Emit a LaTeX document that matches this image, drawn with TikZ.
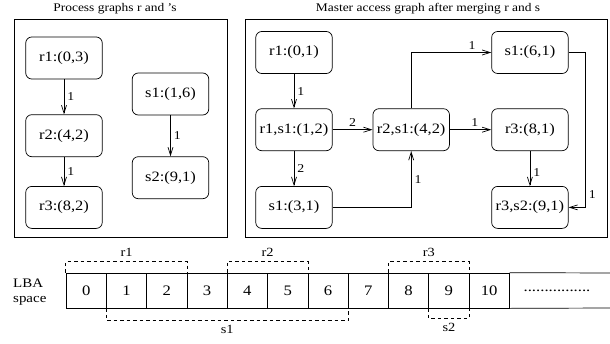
\documentclass[tikz,border=0pt]{standalone}
\usepackage{fontspec}
\setmainfont{Liberation Serif}[FakeStretch=1.15]
\usetikzlibrary{arrows.meta,positioning}

\begin{document}
\begin{tikzpicture}[x=1pt, y=-1pt,
  box/.style={draw, rounded corners=6pt, minimum width=76.5pt, minimum height=42pt, inner sep=1pt, line width=0.7pt, font=\fontsize{14.3}{17}\selectfont},
  frame/.style={draw, line width=0.8pt},
  arr/.style={-{Straight Barb[length=8pt,width=5pt]}, line width=0.7pt},
  lbl/.style={font=\fontsize{12}{14}\selectfont, inner sep=3pt},
  title/.style={font=\fontsize{11.7}{14}\selectfont},
  cell/.style={draw, minimum width=40.3pt, minimum height=35pt, inner sep=0pt, line width=0.7pt, font=\fontsize{14.5}{17}\selectfont},
  brace/.style={line width=0.6pt, dash pattern=on 3.5pt off 3pt},
  blbl/.style={font=\fontsize{12.5}{15}\selectfont, inner sep=4.5pt}]
\useasboundingbox (0,0) rectangle (610,343);

% process graphs
\node[title] (tleft) at (115,9) {Process graphs r and 's};
\draw[frame] (14,19) rectangle (227,237);
\node[box] (r1) at (64,58) {r1:(0,3)};
\node[box, below=35pt of r1] (r2) {r2:(4,2)};
\node[box, below=29pt of r2] (r3) {r3:(8,2)};
\node[box] (s1) at (170.5,94) {s1:(1,6)};
\node[box, below=41pt of s1] (s2) {s2:(9,1)};
\draw[arr] (r1) -- node[lbl, right] {1} (r2);
\draw[arr] (r2) -- node[lbl, right] {1} (r3);
\draw[arr] (s1) -- node[lbl, right] {1} (s2);

% master access graph
\node[title] (tright) at (428,9) {Master access graph after merging r and s};
\draw[frame] (245,19) rectangle (607,237);
\node[box] (m1) at (294,52.5) {r1:(0,1)};
\node[box, below=34.5pt of m1] (m2) {r1,s1:(1,2)};
\node[box, below=35pt of m2] (m3) {s1:(3,1)};
\node[box, right=40pt of m2] (m4) {r2,s1:(4,2)};
\node[box, right=41.5pt of m4] (m6) {r3:(8,1)};
\node[box, above=34.5pt of m6] (m5) {s1:(6,1)};
\node[box, below=35pt of m6] (m7) {r3,s2:(9,1)};
\draw[arr] (m1) -- node[lbl, right] {1} (m2);
\draw[arr] (m2) -- node[lbl, right] {2} (m3);
\draw[arr] (m2) -- node[lbl, above] {2} (m4);
\draw[arr] (m4) -- node[lbl, above, pos=0.6] {1} (m6);
\draw[arr] (m6) -- node[lbl, right, pos=0.6] {1} (m7);
\draw[arr] (m3.east) -| node[lbl, right, pos=0.75] {1} (m4.south);
\draw[arr] (m4.north) |- node[lbl, above, pos=0.88] {1} (m5.west);
\draw[arr] (m5.east) -- ++(17,0) |- node[lbl, right, pos=0.46] {1} (m7.east);

% LBA space
\node[align=left, anchor=west, font=\fontsize{13}{15}\selectfont, inner sep=0pt] (lba) at (13,292) {LBA\\space};
\foreach \i in {0,...,10}
  \node[cell] (c\i) at ({86.2+40.3*\i},290.5) {\i};
\node[minimum width=99.7pt, minimum height=35pt, inner sep=0pt, font=\fontsize{14.5}{17}\selectfont] (cdots) at (557,290.5) {................};
\draw[line width=0.7pt] (c10.north east) -- (610,273);
\draw[line width=0.7pt] (c10.south east) -- (610,308);

\draw[brace] (c0.north west) -- ++(0,-11) -| node[blbl, above, pos=0.25] (lr1) {r1} (c2.north east);
\draw[brace] (c4.north west) -- ++(0,-11) -| node[blbl, above, pos=0.25] (lr2) {r2} (c5.north east);
\draw[brace] (c8.north west) -- ++(0,-11) -| node[blbl, above, pos=0.25] (lr3) {r3} (c9.north east);
\draw[brace] (c1.south west) -- ++(0,12) -| node[blbl, below, pos=0.25] (ls1) {s1} (c6.south east);
\draw[brace] (c9.south west) -- ++(0,10) -| node[blbl, below, pos=0.25] (ls2) {s2} (c9.south east);
\end{tikzpicture}
\end{document}
